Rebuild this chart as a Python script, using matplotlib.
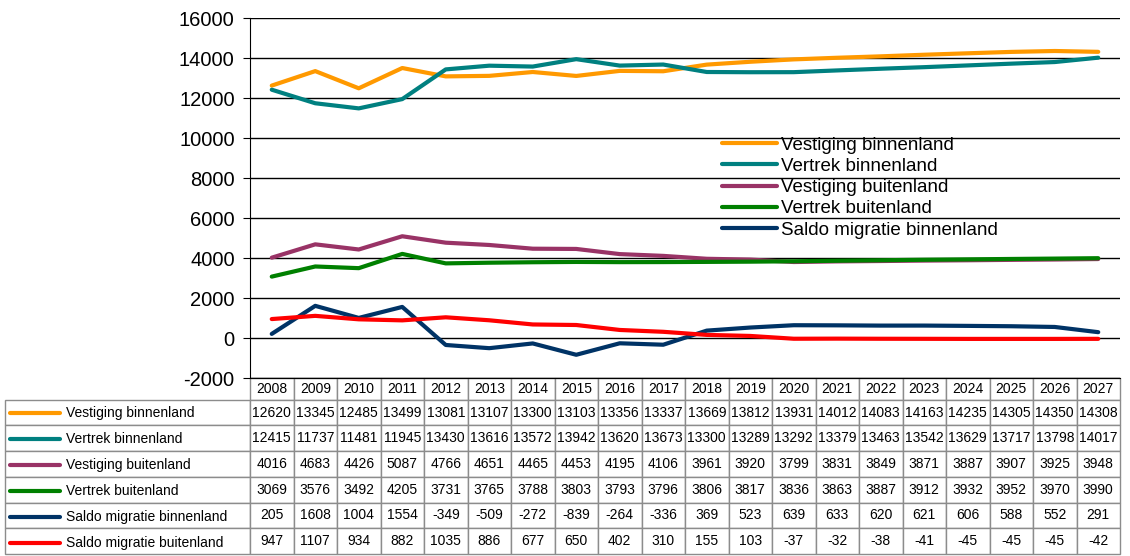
"""Migratie: vestiging en vertrek, met datatabel onder de grafiek."""

import matplotlib

matplotlib.use("Agg")
import matplotlib.pyplot as plt

plt.rcParams["font.family"] = ["Liberation Sans", "DejaVu Sans"]
plt.rcParams["axes.unicode_minus"] = False

JAREN = list(range(2008, 2028))

SERIES = [
    "Vestiging binnenland",
    "Vertrek binnenland",
    "Vestiging buitenland",
    "Vertrek buitenland",
    "Saldo migratie binnenland",
    "Saldo migratie buitenland",
]
KLEUREN = ["#FF9900", "#008080", "#993366", "#008000", "#003366", "#FF0000"]

vestiging_binnenland = [12620, 13345, 12485, 13499, 13081, 13107, 13300, 13103, 13356, 13337,
                        13669, 13812, 13931, 14012, 14083, 14163, 14235, 14305, 14350, 14308]
vertrek_binnenland = [12415, 11737, 11481, 11945, 13430, 13616, 13572, 13942, 13620, 13673,
                      13300, 13289, 13292, 13379, 13463, 13542, 13629, 13717, 13798, 14017]
vestiging_buitenland = [4016, 4683, 4426, 5087, 4766, 4651, 4465, 4453, 4195, 4106,
                        3961, 3920, 3799, 3831, 3849, 3871, 3887, 3907, 3925, 3948]
vertrek_buitenland = [3069, 3576, 3492, 4205, 3731, 3765, 3788, 3803, 3793, 3796,
                      3806, 3817, 3836, 3863, 3887, 3912, 3932, 3952, 3970, 3990]
saldo_binnenland = [205, 1608, 1004, 1554, -349, -509, -272, -839, -264, -336,
                    369, 523, 639, 633, 620, 621, 606, 588, 552, 291]
saldo_buitenland = [947, 1107, 934, 882, 1035, 886, 677, 650, 402, 310,
                    155, 103, -37, -32, -38, -41, -45, -45, -45, -42]

WAARDEN = [vestiging_binnenland, vertrek_binnenland, vestiging_buitenland,
           vertrek_buitenland, saldo_binnenland, saldo_buitenland]

# layout in pixels (figuur 1130x556 op dpi 100)
AX_L, AX_R, AX_T, AX_B = 250, 1120, 18, 378
AX_W, AX_H = AX_R - AX_L, AX_B - AX_T
TABEL_L, TABEL_B = 5, 554
KOP_H, RIJ_H = 22, 26

fig = plt.figure(figsize=(11.3, 5.56), dpi=100)
ax = fig.add_axes([AX_L / 1130, 1 - AX_B / 556, AX_W / 1130, AX_H / 556])

x = list(range(len(JAREN)))
lijnen = []
for naam, kleur, waarden in zip(SERIES, KLEUREN, WAARDEN):
    (lijn,) = ax.plot(x, waarden, color=kleur, linewidth=3, label=naam,
                      solid_capstyle="round", zorder=3)
    lijnen.append(lijn)

ax.set_xlim(-0.5, len(JAREN) - 0.5)
ax.set_ylim(-2000, 16000)
ax.set_yticks(range(-2000, 16001, 2000))
ax.set_xticks([])
ax.yaxis.grid(True, color="#000000", linewidth=1)
ax.set_axisbelow(True)
ax.tick_params(axis="y", labelsize=14.5, length=5, pad=6, colors="#000000")
for kant in ("top", "right"):
    ax.spines[kant].set_visible(False)

# legenda (Excel laat de laatste reeks weg)
ax.legend(handles=lijnen[:5], loc="upper left", bbox_to_anchor=(0.543, 0.671),
          frameon=False, fontsize=13.5, handlelength=2.9, handletextpad=0.25,
          labelspacing=0.22, borderpad=0, borderaxespad=0)

# datatabel
cel_tekst = [[""] + [str(v) for v in waarden] for waarden in WAARDEN]
kolom_labels = [""] + [str(j) for j in JAREN]
breedtes = [AX_L - TABEL_L] + [AX_W / len(JAREN)] * len(JAREN)
totaal = sum(breedtes)
tabel = ax.table(
    cellText=cel_tekst,
    colLabels=kolom_labels,
    colWidths=[b / totaal for b in breedtes],
    cellLoc="center",
    bbox=[(TABEL_L - AX_L) / AX_W, -(TABEL_B - AX_B) / AX_H,
          (AX_R - TABEL_L) / AX_W, (TABEL_B - AX_B) / AX_H],
)
tabel.auto_set_font_size(False)
tabel.set_fontsize(10)
for (r, c), cel in tabel.get_celld().items():
    cel.set_edgecolor("#8c8c8c")
    cel.set_linewidth(1)
    if r == 0:
        cel.set_height(cel.get_height() * KOP_H / RIJ_H)
    if r == 0 and c == 0:
        cel.visible_edges = "open"

# rijlabels met lijnstukje
for i, (naam, kleur) in enumerate(zip(SERIES, KLEUREN)):
    y = -(KOP_H + RIJ_H * i + RIJ_H / 2) / AX_H
    ax.plot([(10 - AX_L) / AX_W, (60 - AX_L) / AX_W], [y, y], transform=ax.transAxes,
            color=kleur, linewidth=3, solid_capstyle="round", clip_on=False)
    ax.text((66 - AX_L) / AX_W, y, naam, transform=ax.transAxes, fontsize=10,
            ha="left", va="center")

fig.savefig("out.png", dpi=100, facecolor="white")
